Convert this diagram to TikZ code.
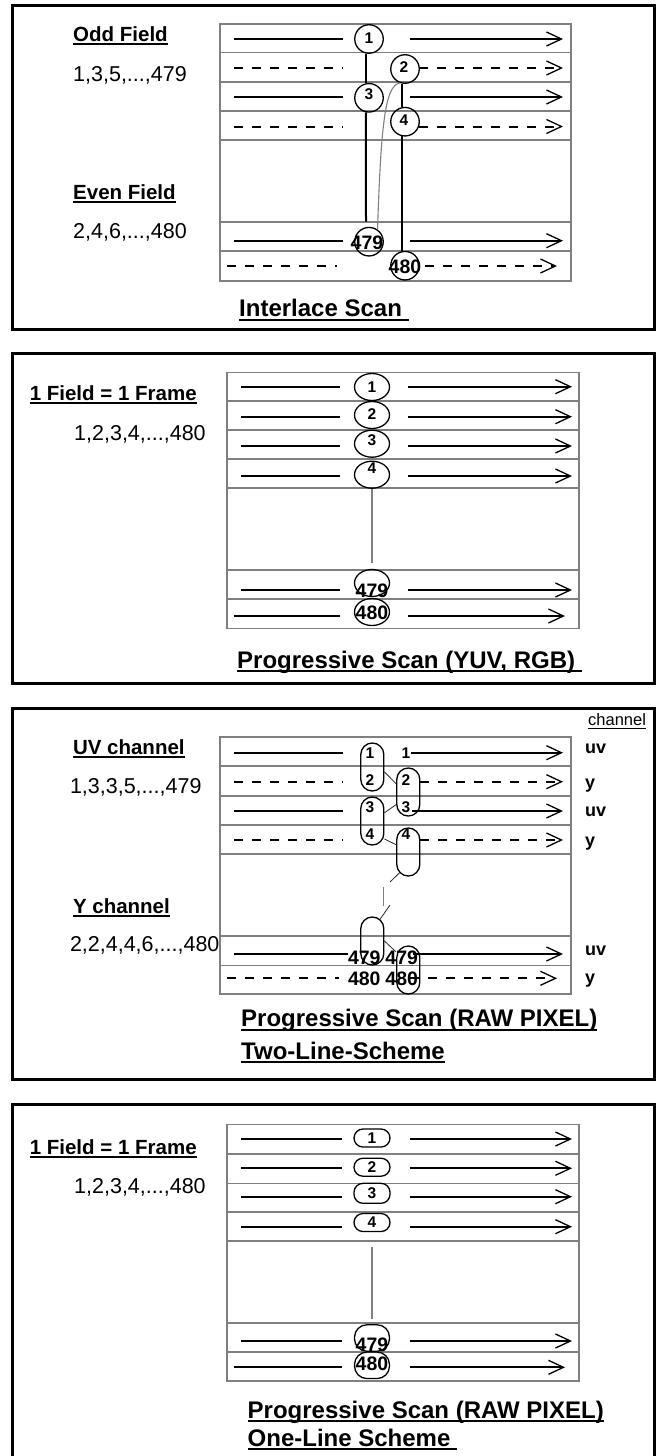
\documentclass[tikz,border=0pt]{standalone}
\usepackage{fontspec}
\setmainfont{Liberation Sans}
\usetikzlibrary{arrows.meta,shapes.geometric}
\definecolor{gridgray}{RGB}{128,128,128}
\newsavebox{\ulbox}
\newcommand{\ulin}[2][1.9pt]{\sbox\ulbox{#2}\rlap{\rule[-3.8pt]{\wd\ulbox}{#1}}\usebox\ulbox}

\begin{document}
\begin{tikzpicture}[x=1pt,y=-1pt,
  panel/.style={line width=3pt},
  gridbox/.style={draw=gridgray,line width=1.6pt},
  scan/.style={line width=2pt},
  scanto/.style={line width=2pt,-{Straight Barb[length=15pt,width=14pt,line width=1.3pt]}},
  dashscan/.style={dash pattern=on 9pt off 9pt},
  ring/.style={circle,draw,line width=1.3pt,minimum size=28.5pt,inner sep=0pt},
  oval/.style={ellipse,draw,line width=1.3pt,minimum width=35pt,minimum height=27pt,inner sep=0pt},
  pill/.style={rectangle,draw,line width=1.3pt,rounded corners=11.5pt,minimum width=23pt,minimum height=48pt,inner sep=0pt},
  tag/.style={rectangle,draw,line width=1.3pt,rounded corners=9pt,minimum width=36pt,minimum height=18pt,inner sep=0pt},
  bigtag/.style={tag,rounded corners=12.5pt,minimum width=35pt,minimum height=26.5pt},
  link/.style={line width=2pt},
  fineline/.style={line width=0.8pt,black!85},
  greylink/.style={line width=1.1pt,draw=gridgray},
  num/.style={font=\bfseries\fontsize{15.5}{18}\selectfont,inner sep=0pt},
  bignum/.style={font=\bfseries\fontsize{19.5}{22}\selectfont,inner sep=0pt},
  txt/.style={font=\fontsize{21.5}{25}\selectfont,anchor=base west,inner sep=0pt},
  hdr/.style={font=\bfseries\fontsize{20.5}{25}\selectfont,anchor=base west,inner sep=0pt},
  ttl/.style={font=\bfseries\fontsize{24}{28}\selectfont,anchor=base west,inner sep=0pt},
  chn/.style={font=\bfseries\fontsize{18}{20}\selectfont,anchor=base west,inner sep=0pt}]
  \useasboundingbox (0,0) rectangle (660,1456);

  % interlace scan
  \draw[panel] (12,5) rectangle (654,329);
  \draw[gridbox] (220,24) rectangle (571,280.7);
  \foreach \y in {52.3,81.7,110.7,140,221.7,250.7}
    \draw[gridbox] (220,\y) -- (571,\y);
  \node[hdr] (odd) at (73,41) {\ulin{Odd Field}};
  \node[txt] (oddlist) at (73,81) {1,3,5,...,479};
  \node[hdr] (even) at (73,199) {\ulin{Even Field}};
  \node[txt] (evenlist) at (73,238) {2,4,6,...,480};
  \draw[scan] (234,39) -- (343,39);
  \draw[scanto] (410,39) -- (563,39);
  \draw[scan,dashscan] (234,68) -- (343,68);
  \draw[scanto,dashscan] (419,68) -- (563,68);
  \draw[scan] (234,97) -- (343,97);
  \draw[scanto] (410,97) -- (563,97);
  \draw[scan,dashscan] (234,126.5) -- (343,126.5);
  \draw[scanto,dashscan] (419,126.5) -- (563,126.5);
  \draw[scan] (234,240.7) -- (343,240.7);
  \draw[scanto] (410,240.7) -- (563,240.7);
  \draw[scan,dashscan] (227,266) -- (337,266);
  \draw[scanto,dashscan] (425,266) -- (557,266);
  \node[ring] (c1) at (369,39) {};
  \node[ring] (c2) at (405,69) {};
  \node[ring] (c3) at (369,97.8) {};
  \node[ring] (c4) at (405,121.7) {};
  \node[ring] (c479) at (369,241.7) {};
  \node[ring] (c480) at (405,265.7) {};
  \node[num] (n1) at (369,38.3) {1};
  \node[num] (n2) at (404,67) {2};
  \node[num] (n3) at (369,94.3) {3};
  \node[num] (n4) at (404,119.7) {4};
  \node[bignum] (n479) at (367,243) {479};
  \node[bignum] (n480) at (405,266.3) {480};
  \coordinate (e1) at (366,221.7);
  \draw[link] (c1.258) -- (c3.102);
  \draw[link] (c3.258) -- (e1);
  \draw[link] (c2.257) -- (c4.103);
  \draw[link] (c4.257) -- (c480.103);
  \draw[greylink] (c2.250) .. controls (385,85) and (381,125) .. (c479.55);
  \node[ttl] (title1) at (239,316.7) {\ulin{Interlace Scan\ }};

  % progressive scan, yuv / rgb
  \draw[panel] (12,353) rectangle (654,683);
  \draw[gridbox] (227,372.3) rectangle (578.7,628.3);
  \foreach \y in {400.7,430,459,487.7,570,599}
    \draw[gridbox] (227,\y) -- (578.7,\y);
  \node[hdr] (frame2) at (29.6,400) {\ulin{1 Field = 1 Frame}};
  \node[txt] (list2) at (74,440) {1,2,3,4,...,480};
  \foreach \y in {386.7,416.7,446,476,590} {
    \draw[scan] (241,\y) -- (340,\y);
    \draw[scanto] (408,\y) -- (572,\y);
  }
  \draw[scan] (233.5,616) -- (340,616);
  \draw[scanto] (408,616) -- (565,616);
  \node[oval] (o1) at (372,387) {};
  \node[oval] (o2) at (372,415) {};
  \node[oval] (o3) at (372,443.7) {};
  \node[oval] (o4) at (372,474.7) {};
  \node[oval] (o479) at (372,583) {};
  \node[oval] (o480) at (372,612) {};
  \node[num] (m1) at (372,387) {1};
  \node[num] (m2) at (372,414.5) {2};
  \node[num] (m3) at (372,440) {3};
  \node[num] (m4) at (372,467.8) {4};
  \node[bignum] (m479) at (372,590.8) {479};
  \node[bignum] (m480) at (372,612.5) {480};
  \coordinate (f1) at (372,563.3);
  \draw[greylink,line width=1.4pt] (o4.south) -- (f1);
  \node[ttl] (title2) at (237,668.3) {\ulin{Progressive Scan (YUV, RGB)\ }};

  % progressive scan, raw pixel, two lines
  \draw[panel] (12,708) rectangle (654,1079);
  \draw[gridbox] (220,736.7) rectangle (571,994);
  \foreach \y in {766,795.7,825,854,936,965.3}
    \draw[gridbox] (220,\y) -- (571,\y);
  \node[anchor=base west,inner sep=0pt,font=\fontsize{16.5}{20}\selectfont] (chan) at (588,725) {\ulin[1pt]{channel}};
  \node[hdr] (uvch) at (72.8,754) {\ulin{UV channel}};
  \node[txt] (uvlist) at (69.8,793) {1,3,3,5,...,479};
  \node[hdr] (ych) at (72.8,913) {\ulin{Y channel}};
  \node[txt] (ylist) at (69.8,951.7) {2,2,4,4,6,...,480};
  \draw[scan] (234,752.7) -- (343,752.7);
  \draw[scanto] (411,752.7) -- (563,752.7);
  \draw[scan,dashscan] (234,781.7) -- (343,781.7);
  \draw[scanto,dashscan] (420,781.7) -- (563,781.7);
  \draw[scan] (234,811) -- (343,811);
  \draw[scanto] (412,811) -- (563,811);
  \draw[scan,dashscan] (234,840) -- (343,840);
  \draw[scanto,dashscan] (420,840) -- (563,840);
  \draw[scan] (234,954) -- (348,954);
  \draw[scanto] (413,954) -- (563,954);
  \draw[scan,dashscan] (227,978.3) -- (339,978.3);
  \draw[scanto,dashscan] (410,978.3) -- (557,978.3);
  \node[pill] (pA) at (372.3,767) {};
  \node[pill] (pB) at (408.3,792) {};
  \node[pill] (pC) at (372.3,821) {};
  \node[pill] (pD) at (408.3,852) {};
  \node[pill] (pE) at (372.3,941) {};
  \node[pill] (pF) at (408.3,970) {};
  \node[num] (a1) at (370,752.7) {1};
  \node[num] (a2) at (370,780) {2};
  \node[num] (a3) at (370,807.3) {3};
  \node[num] (a4) at (370,834.3) {4};
  \node[num] (b1) at (406,752.7) {1};
  \node[num] (b2) at (406,780) {2};
  \node[num] (b3) at (406,807.3) {3};
  \node[num] (b4) at (406,834.3) {4};
  \node[bignum] (a479) at (364.3,957.7) {479};
  \node[bignum] (b479) at (401.7,957.7) {479};
  \node[bignum] (a480) at (364.3,978.3) {480};
  \node[bignum] (b480) at (401.7,978.3) {480};
  \draw[fineline] (pA.-22) -- (pB.146);
  \draw[fineline] (pC.34) -- (pB.226);
  \draw[fineline] (pC.-56) -- (pD.149);
  \coordinate (d1) at (390,882);
  \draw[fineline] ([xshift=-8.3pt,yshift=4.3pt]pD.south) -- (d1);
  \coordinate (g1) at (383.3,887);
  \coordinate (g2) at (383.3,906);
  \draw[greylink] (g1) -- (g2);
  \coordinate (g3) at (390,905);
  \draw[fineline] (g3) -- ([xshift=7.7pt,yshift=-3pt]pE.north);
  \draw[fineline] (pE.0) -- (pF.124);
  \node[chn] (r1) at (585,753) {uv};
  \node[chn] (r2) at (585,788) {y};
  \node[chn] (r3) at (585,816.5) {uv};
  \node[chn] (r4) at (585,846) {y};
  \node[chn] (r5) at (585,955) {uv};
  \node[chn] (r6) at (585,983.5) {y};
  \node[ttl] (title3) at (241,1026.7) {\ulin{Progressive Scan (RAW PIXEL)}};
  \node[ttl] (title3b) at (241,1059.3) {\ulin{Two-Line-Scheme}};

  % progressive scan, raw pixel, one line
  \draw[panel] (12,1470) -- (12,1104) -- (654,1104) -- (654,1470);
  \draw[gridbox] (227,1124.3) rectangle (578.7,1380.7);
  \foreach \y in {1154,1183.3,1211.7,1240.7,1322.7,1351.7}
    \draw[gridbox] (227,\y) -- (578.7,\y);
  \node[hdr] (frame4) at (29.6,1154) {\ulin{1 Field = 1 Frame}};
  \node[txt] (list4) at (74,1193.3) {1,2,3,4,...,480};
  \foreach \y in {1139,1168.3,1196.7,1226.7,1341} {
    \draw[scan] (241,\y) -- (342,\y);
    \draw[scanto] (409.5,\y) -- (572,\y);
  }
  \draw[scan] (233.5,1367.3) -- (342,1367.3);
  \draw[scanto] (409.5,1367.3) -- (565,1367.3);
  \node[tag] (t1) at (372,1138) {};
  \node[tag] (t2) at (372,1167.2) {};
  \node[tag,minimum height=20pt] (t3) at (372,1193.3) {};
  \node[tag] (t4) at (372,1222.5) {};
  \node[bigtag] (t479) at (372,1338) {};
  \node[bigtag] (t480) at (372,1365.3) {};
  \node[num] (k1) at (372,1138) {1};
  \node[num] (k2) at (372,1166.7) {2};
  \node[num] (k3) at (372,1193.3) {3};
  \node[num] (k4) at (372,1221.7) {4};
  \node[bignum] (k479) at (372,1344.3) {479};
  \node[bignum] (k480) at (372,1363.3) {480};
  \coordinate (h1) at (372,1246.7);
  \coordinate (h2) at (372,1319);
  \draw[greylink,line width=1.4pt] (h1) -- (h2);
  \node[ttl] (title4) at (247.5,1418) {\ulin{Progressive Scan (RAW PIXEL)}};
  \node[ttl] (title4b) at (247.5,1446) {\ulin{One-Line Scheme\ }};
\end{tikzpicture}
\end{document}
